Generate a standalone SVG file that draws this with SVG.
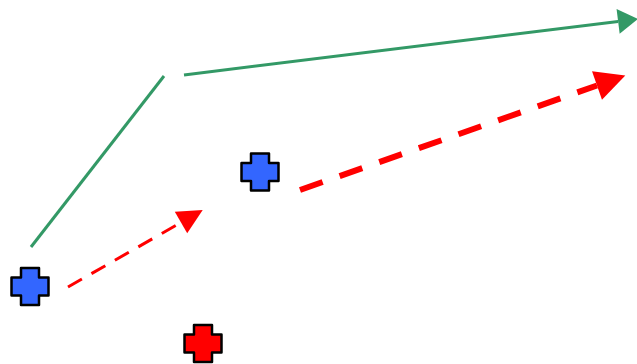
<svg xmlns="http://www.w3.org/2000/svg" width="637" height="364" viewBox="0 0 637 364">
<style>
.cross{stroke:#000;stroke-width:2.5;stroke-linejoin:round}
.blue{fill:#3366ff}
.red{fill:#ff0000}
.green{stroke:#339966;stroke-width:3;fill:none}
.rthin{stroke:#ff0000;stroke-width:3;fill:none;stroke-dasharray:16 11}
.rthick{stroke:#ff0000;stroke-width:6;fill:none;stroke-dasharray:24 18}
</style>
<defs>
<path id="crossShape" d="M-9,-18.5 H9 V-9 H18.5 V9 H9 V18.5 H-9 V9 H-18.5 V-9 H-9 Z"/>
<marker id="ag" markerUnits="userSpaceOnUse" markerWidth="22" markerHeight="26" refX="0" refY="12.5" orient="auto" overflow="visible">
<path d="M0,0 L20,12.5 L0,25 Z" fill="#339966"/>
</marker>
<marker id="ar1" markerUnits="userSpaceOnUse" markerWidth="27" markerHeight="26" refX="0" refY="12.5" orient="auto" overflow="visible">
<path d="M0,0 L25,12.5 L0,25 Z" fill="#ff0000"/>
</marker>
<marker id="ar2" markerUnits="userSpaceOnUse" markerWidth="32" markerHeight="31" refX="0" refY="15" orient="auto" overflow="visible">
<path d="M0,0 L30,15 L0,30 Z" fill="#ff0000"/>
</marker>
</defs>
<g id="connectors">
<line class="green" x1="31" y1="247" x2="164" y2="76"/>
<line class="green" x1="184" y1="75" x2="618.1" y2="21.4" marker-end="url(#ag)"/>
<line class="rthin" x1="68" y1="287" x2="181" y2="222.5" marker-end="url(#ar1)"/>
<line class="rthick" x1="300" y1="190" x2="597" y2="85.5" marker-end="url(#ar2)"/>
</g>
<g id="node-blue-1"><use href="#crossShape" class="cross blue" transform="translate(30,286.5)"/></g>
<g id="node-blue-2"><use href="#crossShape" class="cross blue" transform="translate(260,172)"/></g>
<g id="node-red"><use href="#crossShape" class="cross red" transform="translate(203,343.5)"/></g>
</svg>
